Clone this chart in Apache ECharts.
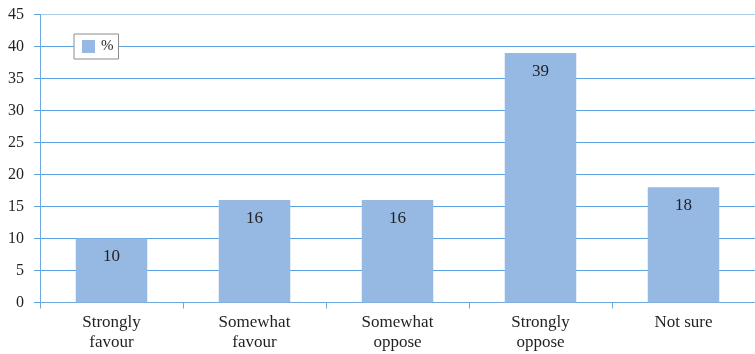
<!DOCTYPE html>
<html>
<head>
<meta charset="utf-8">
<script src="https://cdn.jsdelivr.net/npm/echarts@6/dist/echarts.min.js"></script>
<style>
  html, body { margin: 0; padding: 0; background: #fff; }
  #chart { width: 755px; height: 354px; }
</style>
</head>
<body>
<div id="chart"></div>
<script>
const categories = ['Strongly\nfavour', 'Somewhat\nfavour', 'Somewhat\noppose', 'Strongly\noppose', 'Not sure'];
const percentValues = [10, 16, 16, 39, 18];
const seriesName = '%';

const font = 'Liberation Serif';
const textColor = '#231f20';
const chart = echarts.init(document.getElementById('chart'));

chart.setOption({
  animation: false,
  backgroundColor: '#ffffff',
  grid: { left: 40, right: 0, top: 14.5, bottom: 51.5, containLabel: false },
  legend: {
    data: [seriesName],
    left: 74,
    top: 34,
    orient: 'horizontal',
    padding: [5, 5, 5, 8],
    itemWidth: 13,
    itemHeight: 13,
    itemGap: 4,
    borderColor: '#8c8c8c',
    borderWidth: 1,
    backgroundColor: '#ffffff',
    icon: 'rect',
    textStyle: { fontFamily: font, fontSize: 15, color: textColor, padding: [0, 0, 0, 1] }
  },
  xAxis: {
    type: 'category',
    data: categories,
    axisLine: { lineStyle: { color: '#6ea8dc', width: 1 } },
    axisTick: { show: true, alignWithLabel: false, length: 6, lineStyle: { color: '#6ea8dc' } },
    axisLabel: { fontFamily: font, fontSize: 17, color: textColor, lineHeight: 20, margin: 10, interval: 0 }
  },
  yAxis: {
    type: 'value',
    min: 0,
    max: 45,
    interval: 5,
    axisLine: { show: true, lineStyle: { color: '#6ea8dc', width: 1 } },
    axisTick: { show: true, length: 6, lineStyle: { color: '#5ba3e0' } },
    axisLabel: { fontFamily: font, fontSize: 16, color: textColor, margin: 16 },
    splitLine: {
      show: true,
      lineStyle: {
        color: ['#5ba3e0', '#5ba3e0', '#5ba3e0', '#5ba3e0', '#5ba3e0', '#5ba3e0', '#5ba3e0', '#5ba3e0', '#5ba3e0', '#a8cdec'],
        width: 1.2
      }
    }
  },
  series: [{
    name: seriesName,
    type: 'bar',
    data: percentValues,
    barWidth: '50%',
    itemStyle: { color: '#95b9e3' },
    label: {
      show: true,
      position: 'insideTop',
      distance: 10,
      fontFamily: font,
      fontSize: 17,
      color: textColor
    }
  }]
});
</script>
</body>
</html>
